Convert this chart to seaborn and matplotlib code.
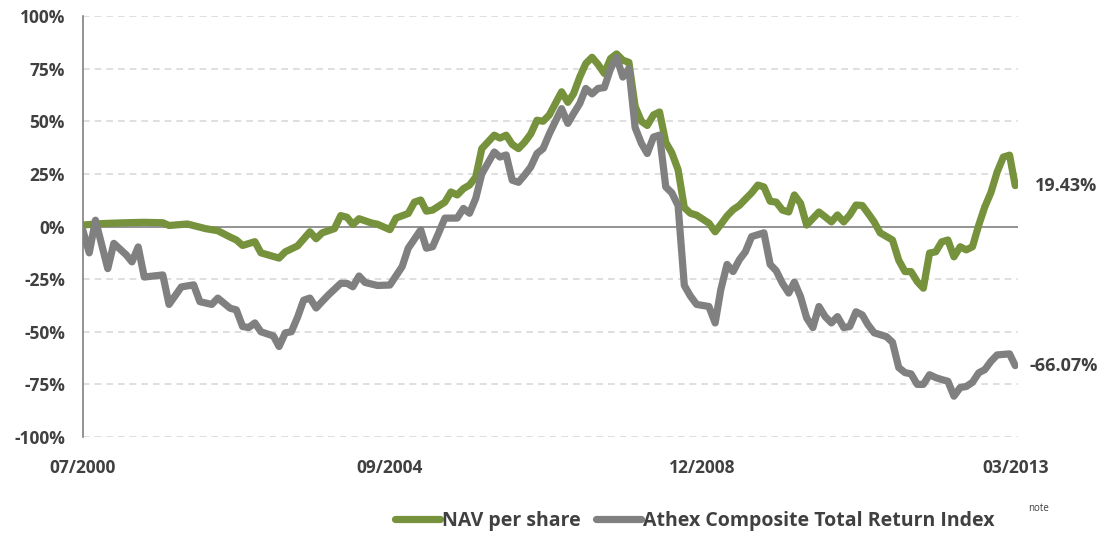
import numpy as np
import pandas as pd
import matplotlib
matplotlib.use("Agg")
import matplotlib.pyplot as plt
import matplotlib.dates as mdates
import seaborn as sns

# months counted from 07/2000 (0) to 03/2013 (152), values in %
nav_months = [0, 2, 4, 7, 10, 13, 14, 17, 20, 22, 24, 25, 26, 28, 29, 32, 33, 35, 37, 38,
              39, 41, 42, 43, 44, 45, 47, 48, 50, 51, 53, 54, 55, 56, 57, 59, 60, 61, 62, 63,
              64, 65, 67, 68, 69, 70, 71, 72, 73, 74, 75, 76, 78, 79, 80, 81, 82, 83, 84, 85,
              86, 87, 88, 89, 90, 91, 92, 93, 94, 95, 96, 97, 98, 99, 100, 102, 103, 104, 105, 106,
              107, 108, 109, 110, 111, 112, 113, 114, 115, 116, 117, 118, 120, 121, 122, 123, 124, 125, 126, 127,
              128, 129, 130, 132, 133, 134, 135, 136, 137, 138, 139, 140, 141, 142, 143, 144, 145, 146, 147, 148,
              149, 150, 151, 152]
nav_values = [0.7, 1.2, 1.5, 1.8, 2.0, 1.8, 0.5, 1.2, -1.0, -2.0, -5.0, -6.4, -9.0, -7.2, -12.5, -15.0, -12.0, -9.2, -2.5, -5.8,
              -3.0, -1.0, 5.2, 4.4, 1.0, 3.7, 1.7, 1.1, -1.5, 4.0, 6.2, 11.6, 12.6, 7.3, 7.8, 11.6, 16.4, 15.0, 18.0, 19.7,
              23.5, 37.0, 43.4, 42.0, 43.4, 39.0, 37.0, 40.0, 44.0, 50.5, 50.0, 53.0, 64.0, 59.0, 63.0, 71.0, 77.4, 80.4, 77.0, 72.7,
              79.8, 82.0, 79.0, 78.0, 57.0, 50.0, 48.0, 53.0, 54.4, 40.0, 35.0, 27.0, 9.0, 6.3, 5.4, 1.6, -2.5, 1.0, 5.0, 8.0,
              10.0, 13.0, 16.0, 19.7, 18.8, 12.0, 11.6, 7.8, 6.9, 15.0, 11.0, 0.7, 6.9, 4.6, 2.2, 5.5, 2.2, 5.5, 10.2, 10.0,
              6.4, 2.2, -3.0, -6.4, -16.0, -21.4, -21.4, -26.2, -29.3, -12.6, -12.0, -7.3, -6.4, -14.4, -9.6, -11.1, -9.6, 0.7, 9.3, 16.3,
              25.8, 33.0, 33.9, 19.43]

athex_months = [0, 1, 2, 4, 5, 7, 8, 9, 10, 13, 14, 16, 18, 19, 21, 22, 24, 25, 26, 27,
                28, 29, 31, 32, 33, 34, 35, 36, 37, 38, 39, 40, 42, 43, 44, 45, 46, 48, 50, 52,
                53, 55, 56, 57, 58, 59, 61, 62, 63, 64, 65, 67, 68, 69, 70, 71, 72, 73, 74, 75,
                76, 78, 79, 80, 81, 82, 83, 84, 85, 86, 87, 88, 89, 90, 91, 92, 93, 94, 95, 96,
                97, 98, 99, 100, 102, 103, 104, 105, 106, 107, 108, 109, 111, 112, 113, 114, 115, 116, 117, 118,
                119, 120, 121, 122, 123, 124, 125, 126, 127, 128, 129, 131, 132, 133, 134, 135, 136, 137, 138, 139,
                140, 141, 142, 143, 144, 145, 146, 147, 148, 149, 151, 152]
athex_values = [-2.0, -12.5, 3.0, -20.0, -8.0, -13.5, -16.8, -9.7, -24.0, -23.0, -37.0, -28.7, -27.7, -35.7, -37.0, -34.0, -38.8, -39.6, -47.5, -48.0,
                -45.8, -50.0, -52.0, -57.0, -50.5, -50.0, -43.0, -35.0, -34.0, -38.7, -35.6, -32.5, -27.0, -27.0, -28.6, -23.5, -26.6, -28.0, -27.8, -19.0,
                -10.3, -1.6, -10.3, -9.6, -3.0, 4.0, 4.0, 8.6, 6.3, 13.4, 25.0, 35.4, 33.0, 34.0, 22.0, 21.0, 24.4, 28.3, 34.7, 37.0,
                44.0, 56.0, 49.0, 53.6, 58.4, 65.6, 63.0, 65.6, 66.0, 75.0, 80.4, 71.0, 75.0, 47.0, 39.5, 34.7, 42.5, 43.4, 18.8, 16.0,
                10.0, -28.0, -33.0, -37.0, -38.0, -45.8, -30.0, -18.0, -21.4, -15.8, -12.0, -4.8, -3.0, -18.0, -21.0, -27.0, -31.6, -26.4, -33.4, -43.4,
                -48.0, -38.0, -42.8, -45.8, -42.8, -48.0, -47.5, -40.5, -42.0, -46.6, -50.5, -52.3, -55.0, -67.0, -69.4, -70.0, -75.0, -75.0, -70.4, -71.8,
                -72.7, -73.5, -80.6, -76.5, -76.0, -74.0, -69.5, -68.0, -64.0, -61.0, -60.5, -66.07]

series_names = ["NAV per share", "Athex Composite Total Return Index"]
tick_dates = ["2000-07-01", "2004-09-01", "2008-12-01", "2013-03-01"]

start = pd.Timestamp("2000-07-01")
def to_dates(months):
    return [start + pd.DateOffset(months=m) for m in months]

df = pd.concat([
    pd.DataFrame({"date": to_dates(nav_months), "value": nav_values, "series": series_names[0]}),
    pd.DataFrame({"date": to_dates(athex_months), "value": athex_values, "series": series_names[1]}),
])

sns.set_style("white")
plt.rcParams["font.family"] = ["Open Sans", "DejaVu Sans"]

green = "#76923C"
grey = "#808080"
text_col = "#404040"

fig = plt.figure(figsize=(11.08, 5.34), dpi=100)
ax = fig.add_axes([0.0749, 0.1816, 0.8439, 0.7884])

sns.lineplot(data=df, x="date", y="value", hue="series", palette=[green, grey],
             linewidth=5.2, ax=ax, legend=False, solid_capstyle="round", sort=False)
ax.lines[0].set_zorder(3)
ax.lines[1].set_zorder(4)

ax.set_ylim(-100, 100)
ax.set_xlim(pd.Timestamp("2000-07-01"), pd.Timestamp("2013-03-15"))
ax.set_yticks(np.arange(-100, 101, 25))
ax.set_yticklabels([f"{v}%" for v in range(-100, 101, 25)])
ax.set_xticks(pd.to_datetime(tick_dates))
ax.xaxis.set_major_formatter(mdates.DateFormatter("%m/%Y"))

for v in range(-100, 101, 25):
    if v != 0:
        ax.axhline(v, color="#d9d9d9", lw=1.2, ls=(0, (4, 3)), zorder=1)
ax.axhline(0, color=grey, lw=1.2, zorder=2)

for s in ["top", "right", "bottom"]:
    ax.spines[s].set_visible(False)
ax.spines["left"].set_color(grey)
ax.spines["left"].set_linewidth(1.2)

ax.tick_params(axis="both", length=0, labelsize=12.5, labelcolor=text_col)
ax.tick_params(axis="y", pad=13)
ax.tick_params(axis="x", pad=16)
for lab in ax.get_xticklabels() + ax.get_yticklabels():
    lab.set_fontweight("bold")
ax.set_xlabel("")
ax.set_ylabel("")

ax.annotate("19.43%", xy=(1.0, (19.43 + 100) / 200), xycoords="axes fraction",
            xytext=(12, 0), textcoords="offset points", ha="left", va="center",
            fontsize=13, fontweight="bold", color=text_col)
ax.annotate("-66.07%", xy=(1.0, (-66.07 + 100) / 200), xycoords="axes fraction",
            xytext=(8, 0), textcoords="offset points", ha="left", va="center",
            fontsize=13, fontweight="bold", color=text_col)

handles = [plt.Line2D([], [], color=green, lw=5.2, solid_capstyle="round"),
           plt.Line2D([], [], color=grey, lw=5.2, solid_capstyle="round")]
leg = fig.legend(handles, series_names, loc="center", bbox_to_anchor=(0.627, 0.025),
                 ncol=2, frameon=False, handlelength=2.3, handletextpad=0.1,
                 columnspacing=0.8, prop={"size": 14, "weight": "bold"})
for t in leg.get_texts():
    t.set_color(text_col)
fig.text(0.928, 0.048, "note", fontsize=7, color=text_col, ha="left", va="center")

fig.savefig("out.png", dpi=100)
